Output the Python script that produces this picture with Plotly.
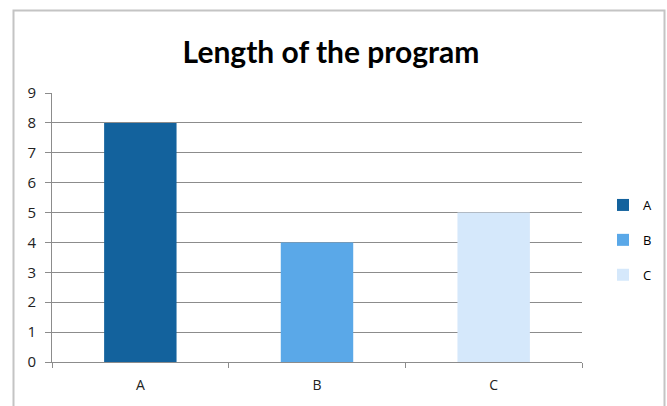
import plotly.graph_objects as go

categories = ["A", "B", "C"]
values = [8, 4, 5]
colors = ["#13629d", "#5aa8e8", "#d5e8fb"]
title_text = "Length of the program"

fig = go.Figure()
for cat, val, col in zip(categories, values, colors):
    fig.add_trace(go.Bar(
        x=[cat], y=[val], name=cat, marker=dict(color=col, line=dict(width=0)),
        width=0.41, legendgroup=cat,
    ))

# plot area in pixels: x 52..582, y 93..362
L, R, T, B = 52, 582, 93, 362
W, H = 667, 406
def px(x):
    return (x - L) / (R - L)
def py(y):
    return (B - y) / (B - T)

fig.add_shape(type="rect", xref="paper", yref="paper",
              x0=px(13.5), x1=px(664.5), y0=py(412), y1=py(10.5),
              line=dict(color="#c4c4c4", width=2), layer="below")

fig.update_layout(
    width=W, height=H,
    margin=dict(l=L, r=W - R, t=T, b=H - B, pad=0, autoexpand=False),
    paper_bgcolor="white", plot_bgcolor="white",
    title=dict(text="<b>" + title_text + "</b>", x=px(331), xanchor="center", xref="paper",
               y=1 - 52 / H, yanchor="middle",
               font=dict(family="Lato", size=30, color="black")),
    barmode="overlay",
    showlegend=True,
    legend=dict(x=px(603), xanchor="left", y=py(190), yanchor="top",
                font=dict(family="Open Sans", size=13, color="black"),
                itemwidth=30, tracegroupgap=15, traceorder="grouped",
                bgcolor="rgba(0,0,0,0)"),
    font=dict(family="Open Sans", size=13, color="#222"),
)
fig.update_xaxes(
    categoryorder="array", categoryarray=categories,
    showline=True, linecolor="#8c8c8c", linewidth=1,
    ticks="outside", tickson="boundaries", ticklen=5, tickcolor="#8c8c8c",
    showgrid=False, tickfont=dict(size=14, color="#222"), ticklabelstandoff=10,
    automargin=False,
)
fig.update_yaxes(
    range=[0, 9], dtick=1, tick0=0,
    showline=True, linecolor="#8c8c8c", linewidth=1,
    ticks="outside", ticklen=6, tickcolor="#8c8c8c",
    showgrid=True, gridcolor="#8c8c8c", gridwidth=1,
    zeroline=False, tickfont=dict(size=15, color="#222"), ticklabelstandoff=6,
    automargin=False,
)

fig.write_html("out.html")
